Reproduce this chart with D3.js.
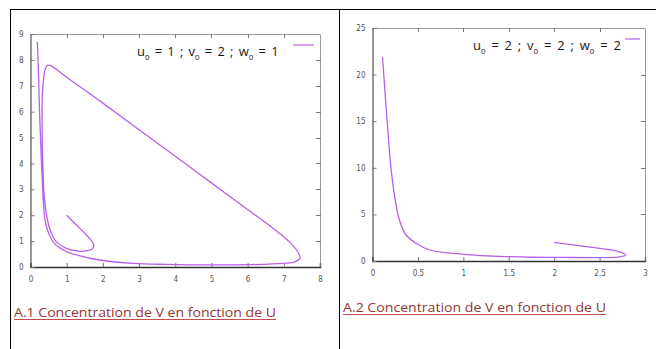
<!DOCTYPE html>
<html><head><meta charset="utf-8">
<script src="https://cdn.jsdelivr.net/npm/d3@7"></script>
<style>html,body{margin:0;padding:0;background:#fff;}svg{display:block;}</style>
</head><body>
<script>
// ---------- data ----------
const chart1U = [1.0,1.27,1.59,1.75,1.71,1.54,1.27,0.99,0.71,0.53,0.43,0.37,0.35,0.33,0.32,0.32,0.34,0.39,0.45,0.5,0.6,1.0,2.0,3.0,4.0,5.0,6.0,6.7,7.17,7.4,7.45,7.3,6.99,6.0,5.0,3.76,2.83,1.91,1.45,0.99,0.66,0.43,0.32,0.29,0.25,0.22,0.19];
const chart1V = [2.0,1.62,1.17,0.85,0.7,0.62,0.62,0.72,0.98,1.49,2.13,2.9,3.55,4.5,5.5,6.3,6.95,7.55,7.77,7.8,7.75,7.33,6.33,5.3,4.28,3.25,2.22,1.5,0.95,0.55,0.35,0.2,0.14,0.09,0.08,0.1,0.14,0.27,0.4,0.6,0.91,1.62,3.55,4.5,6.0,7.5,8.7];
const chart2U = [2.0,2.35,2.69,2.79,2.7,2.45,2.1,1.75,1.51,1.0,0.63,0.48,0.37,0.315,0.28,0.26,0.235,0.215,0.198,0.165,0.135,0.11];
const chart2V = [2.0,1.55,1.07,0.64,0.42,0.37,0.38,0.4,0.46,0.72,1.18,1.9,2.79,3.86,5.0,6.0,7.5,9.0,10.5,14.5,18.5,21.9];
const chart1XTicks = [0,1,2,3,4,5,6,7,8];
const chart1YTicks = [0,1,2,3,4,5,6,7,8,9];
const chart2XTicks = [0,0.5,1,1.5,2,2.5,3];
const chart2YTicks = [0,5,10,15,20,25];
const legendInit1 = ["1","2","1"];
const legendInit2 = ["2","2","2"];
const captions = ["A.1 Concentration de V en fonction de U","A.2 Concentration de V en fonction de U"];

// ---------- drawing ----------
const W = 656, H = 349;
const svg = d3.select("body").append("svg").attr("width", W).attr("height", H);

svg.append("line").attr("x1",10).attr("x2",W).attr("y1",9.5).attr("y2",9.5).attr("stroke","#000");
svg.append("line").attr("x1",10.5).attr("x2",10.5).attr("y1",9).attr("y2",H).attr("stroke","#000");
svg.append("line").attr("x1",339.5).attr("x2",339.5).attr("y1",9).attr("y2",H).attr("stroke","#000");

const curveColor = "#b660e8";

function drawChart(cfg) {
  const x = d3.scaleLinear().domain(cfg.xDomain).range([cfg.left, cfg.right]);
  const y = d3.scaleLinear().domain(cfg.yDomain).range([cfg.bottom, cfg.top]);
  const g = svg.append("g");
  g.append("path").attr("d", `M${cfg.left},${cfg.top+0.5}H${cfg.right+0.5}V${cfg.bottom}`)
    .attr("fill","none").attr("stroke","#9a9a9a").attr("stroke-width",1);
  cfg.xTicks.slice(1,-1).forEach(t => {
    g.append("line").attr("x1",Math.round(x(t))+0.5).attr("x2",Math.round(x(t))+0.5)
      .attr("y1",cfg.top).attr("y2",cfg.top+4).attr("stroke","#777");
  });
  cfg.yTicks.slice(1,-1).forEach(t => {
    g.append("line").attr("x1",cfg.right-4).attr("x2",cfg.right+1)
      .attr("y1",Math.round(y(t))+0.5).attr("y2",Math.round(y(t))+0.5).attr("stroke","#777");
  });
  const xAxis = d3.axisBottom(x).tickValues(cfg.xTicks).tickSize(-4).tickPadding(9)
    .tickFormat(d3.format("~g"));
  const gx = g.append("g").attr("transform",`translate(0,${cfg.bottom})`).call(xAxis);
  gx.select(".domain").attr("stroke","#333").attr("stroke-width",1.4);
  gx.selectAll(".tick line").attr("stroke","#777");
  gx.selectAll("text").attr("fill","#555").attr("font-size",8)
    .attr("font-family","'Liberation Sans Narrow','DejaVu Sans Condensed',sans-serif");
  const yAxis = d3.axisLeft(y).tickValues(cfg.yTicks).tickSize(-4).tickPadding(7)
    .tickFormat(d3.format("~g"));
  const gy = g.append("g").attr("transform",`translate(${cfg.left},0)`).call(yAxis);
  gy.select(".domain").attr("stroke","#444").attr("stroke-width",1.1);
  gy.selectAll(".tick line").attr("stroke","#777");
  gy.selectAll("text").attr("fill","#555").attr("font-size",8)
    .attr("font-family","'Liberation Sans Narrow','DejaVu Sans Condensed',sans-serif");
  const pts = cfg.u.map((d,i)=>[d, cfg.v[i]]);
  const line = d3.line().x(d=>x(d[0])).y(d=>y(d[1])).curve(d3.curveCatmullRom.alpha(0.5));
  g.append("path").datum(pts).attr("d", line).attr("fill","none")
    .attr("stroke",curveColor).attr("stroke-width",1.3).attr("stroke-linejoin","round");
  // legend
  const lt = g.append("text").attr("x",cfg.legX).attr("y",cfg.legY)
    .attr("font-family","'Open Sans','Liberation Sans',sans-serif").attr("font-size",13).attr("fill","#1a1a1a");
  const names = ["u","v","w"];
  names.forEach((n,i)=>{
    lt.append("tspan").text(n);
    lt.append("tspan").text("0").attr("font-size",8).attr("dy",4);
    lt.append("tspan").text(" = " + cfg.leg[i] + (i<2?" ; ":"")).attr("dy",-4);
  });
  const wNow = lt.node().getBBox().width;
  if (wNow > 0) lt.attr("word-spacing", (cfg.legW - wNow) / 8);
  g.append("line").attr("x1",cfg.legLine[0]).attr("x2",cfg.legLine[1])
    .attr("y1",cfg.legLineY).attr("y2",cfg.legLineY).attr("stroke",curveColor).attr("stroke-width",1.2);
  // caption
  g.append("text").attr("x",cfg.capX).attr("y",cfg.capY).text(cfg.caption)
    .attr("font-family","'Open Sans','Liberation Sans',sans-serif").attr("font-size",13)
    .attr("fill","#953735").attr("textLength",cfg.capW).attr("lengthAdjust","spacingAndGlyphs");
  g.append("line").attr("x1",cfg.capX).attr("x2",cfg.capX+cfg.capW)
    .attr("y1",cfg.capY+2.5).attr("y2",cfg.capY+2.5).attr("stroke","#c0504d").attr("stroke-width",1);
}

drawChart({
  xDomain:[0,8], yDomain:[0,9], left:30.5, right:320, top:34, bottom:267,
  xTicks:chart1XTicks, yTicks:chart1YTicks, u:chart1U, v:chart1V,
  leg:legendInit1, legX:137, legY:56, legW:138, legLine:[293,314], legLineY:45,
  caption:captions[0], capX:14, capY:317, capW:262
});
drawChart({
  xDomain:[0,3], yDomain:[0,25], left:372.5, right:645, top:28, bottom:261,
  xTicks:chart2XTicks, yTicks:chart2YTicks, u:chart2U, v:chart2V,
  leg:legendInit2, legX:473, legY:50, legW:143, legLine:[625,640], legLineY:39,
  caption:captions[1], capX:343, capY:312, capW:263
});
</script>
</body></html>
